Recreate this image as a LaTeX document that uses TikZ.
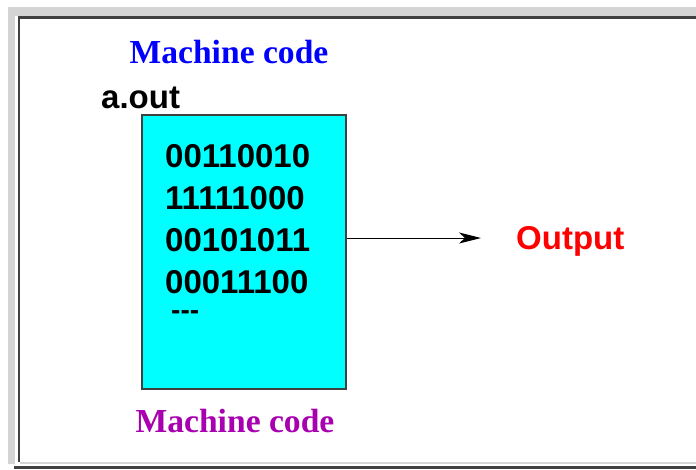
\documentclass[tikz,border=0pt]{standalone}
\usepackage{fontspec}
\setmainfont{Liberation Serif}
\setsansfont{Liberation Sans}
\usetikzlibrary{arrows.meta}
\definecolor{framelight}{HTML}{D4D4D4}
\definecolor{framedark}{HTML}{404040}
\definecolor{codecyan}{HTML}{00FFFF}
\definecolor{codeblue}{HTML}{0000FF}
\definecolor{codepurple}{HTML}{A800B0}
\definecolor{outred}{HTML}{FF0000}

\begin{document}
\begin{tikzpicture}[x=1pt,y=-1pt,
  bigsans/.style={font=\fontsize{33}{40}\selectfont\sffamily\bfseries, inner sep=0pt},
  bigserif/.style={font=\fontsize{33.6}{40}\selectfont\rmfamily\bfseries, inner sep=0pt},
  bits/.style={bigsans, anchor=base west}]
\useasboundingbox[fill=white] (0,0) rectangle (696,469);
% window frame
\fill[framelight] (8,7) rectangle (696,16);
\fill[framelight] (8,7) rectangle (15,464);
\fill[framedark] (18,16) rectangle (696,19);
\fill[framedark] (18,16) rectangle (20,462);
\fill[framelight] (20,462) rectangle (696,464);
\fill[framedark] (14,466) rectangle (696,469);
% the executable
\node[draw=framedark, line width=1.5pt, fill=codecyan, minimum width=204pt, minimum height=274pt, inner sep=0pt] (code) at (244,252) {};
\node[bigsans, anchor=base west] (aout) at (101,108) {a.out};
\node[bigserif, text=codeblue, anchor=base] (mtop) at (229,63) {Machine code};
\node[bigserif, text=codepurple, anchor=base] (mbottom) at (235,432) {Machine code};
\node[bits] (bits1) at (165,167) {00110010};
\node[bits] (bits2) at (165,209) {11111000};
\node[bits] (bits3) at (165,251) {00101011};
\node[bits] (bits4) at (165,293) {00011100};
\node[bits, font=\fontsize{28}{32}\selectfont\sffamily\bfseries] (more) at (171,319) {-{}-{}-};
% output
\node[bigsans, text=outred, anchor=base west] (out) at (516,249) {Output};
\coordinate (tip) at (481,238);
\draw[line width=1pt, -{Stealth[length=22pt,width=11pt,inset=6pt]}] (code.east |- tip) -- (tip);
\end{tikzpicture}
\end{document}
